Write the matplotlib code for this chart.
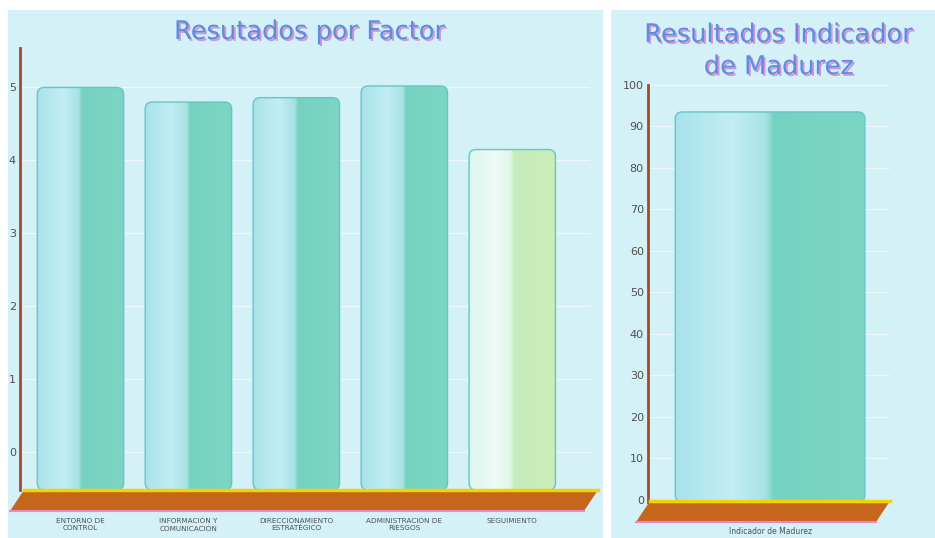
import numpy as np
import matplotlib
matplotlib.use("Agg")
import matplotlib.pyplot as plt
import matplotlib.patheffects as pe
from matplotlib.patches import FancyBboxPatch, Polygon, Rectangle
from matplotlib.colors import LinearSegmentedColormap

# data
factores = ["ENTORNO DE\nCONTROL", "INFORMACIÓN Y\nCOMUNICACIÓN", "DIRECCIONAMIENTO\nESTRATÉGICO",
            "ADMINISTRACIÓN DE\nRIESGOS", "SEGUIMIENTO"]
valores_factor = [4.99, 4.79, 4.85, 5.01, 4.14]
indicador = ["Indicador de Madurez"]
valor_indicador = [93.5]
ticks_factor = [0, 1, 2, 3, 4, 5]
ticks_indicador = [0, 10, 20, 30, 40, 50, 60, 70, 80, 90, 100]

W, H = 935, 538
fig = plt.figure(figsize=(W / 100, H / 100), dpi=100)
fig.patch.set_facecolor("white")

panel_bg = "#d3f1f6"
title_col = "#5b8de0"
axis_col = "#a8482a"
tick_col = "#505050"

teal = LinearSegmentedColormap.from_list("teal", [
    (0.0, "#a8e2ea"), (0.3, "#c2eef4"), (0.48, "#a6e2e4"), (0.52, "#76d2c0"), (1.0, "#7cd6c4")])
pale = LinearSegmentedColormap.from_list("pale", [
    (0.0, "#dcf5f0"), (0.3, "#eefbf6"), (0.48, "#e0f6e6"), (0.52, "#c6ecbc"), (1.0, "#cbeeb8")])


def px_axes(left, top, right, bottom):
    return fig.add_axes([left / W, 1 - bottom / H, (right - left) / W, (bottom - top) / H])


def panel(left, top, right, bottom):
    fig.patches.append(Rectangle((left / W, 1 - bottom / H), (right - left) / W, (bottom - top) / H,
                                 transform=fig.transFigure, facecolor=panel_bg, edgecolor="none", zorder=-5))


def title(x, y, txt):
    fig.text(x / W, 1 - y / H, txt, ha="center", va="center", fontsize=18.5, color=title_col,
             linespacing=1.3, zorder=10, family="DejaVu Sans",
             path_effects=[pe.withSimplePatchShadow(offset=(1.3, -1.3), shadow_rgbFace="#d68ad6", alpha=0.9)])


def floor(x0, x1, y_top_px, shift=14, depth=21):
    # 3D base under the bars, built in figure pixels
    top = 1 - y_top_px / H
    bot = 1 - (y_top_px + depth) / H
    pts = [(x0 / W, top), (x1 / W, top), ((x1 - shift) / W, bot), ((x0 - shift) / W, bot)]
    fig.patches.append(Polygon(pts, closed=True, transform=fig.transFigure, facecolor="#c6661c",
                               edgecolor="none", zorder=5))
    fig.lines.append(plt.Line2D([x0 / W, x1 / W], [top, top], transform=fig.transFigure,
                                color="#f2d400", lw=2.5, zorder=6))
    fig.lines.append(plt.Line2D([(x0 - shift) / W, (x1 - shift) / W], [bot, bot], transform=fig.transFigure,
                                color="#e48ac8", lw=1.5, zorder=6))


def draw_bars(ax, cats, vals, cmaps, ylim, ticks, xlim, xpad, xfs):
    ax.set_facecolor("none")
    ax.set_xlim(*xlim)
    ax.set_ylim(*ylim)
    x = np.arange(len(cats))
    bars = ax.bar(x, np.array(vals) - ylim[0], bottom=ylim[0], width=0.8, color="none", edgecolor="none")
    bb = ax.get_window_extent()
    px_x = bb.width / (xlim[1] - xlim[0])
    aspect = ((ylim[1] - ylim[0]) / bb.height) / ((xlim[1] - xlim[0]) / bb.width)
    grad = np.linspace(0, 1, 256).reshape(1, -1)
    for b, cm in zip(bars, cmaps):
        x0, y0, w, h = b.get_x(), b.get_y(), b.get_width(), b.get_height()
        shape = FancyBboxPatch((x0, y0), w, h, boxstyle="round,pad=0,rounding_size=%f" % (7 / px_x),
                               mutation_aspect=aspect, facecolor="none", edgecolor="#66c6c6", lw=1.0, zorder=3)
        ax.add_patch(shape)
        im = ax.imshow(grad, cmap=cm, extent=(x0, x0 + w, y0, y0 + h), aspect="auto", zorder=2)
        im.set_clip_path(shape)
    ax.set_xlim(*xlim)
    ax.set_ylim(*ylim)
    ax.set_xticks(x)
    ax.set_xticklabels(cats, fontsize=xfs, color=tick_col, linespacing=1.2, va="top")
    ax.set_yticks(ticks)
    ax.set_yticklabels([str(t) for t in ticks], fontsize=8, color=tick_col)
    ax.tick_params(axis="x", length=0, pad=xpad)
    ax.tick_params(axis="y", length=0, pad=3)
    for s in ["top", "right", "bottom"]:
        ax.spines[s].set_visible(False)
    ax.spines["left"].set_color(axis_col)
    ax.spines["left"].set_linewidth(2)
    ax.grid(axis="y", color="white", lw=0.8, alpha=0.6, zorder=1)
    ax.set_axisbelow(True)


# panels
panel(8, 10, 603, 538)
panel(611, 10, 935, 538)

# left chart: Resultados por Factor
ax1 = px_axes(20, 48, 590, 490)
draw_bars(ax1, factores, valores_factor, [teal, teal, teal, teal, pale],
          ylim=(-0.52, 5.53), ticks=ticks_factor, xlim=(-0.56, 4.72), xpad=20, xfs=5.2)
floor(24, 598, 490)
title(310, 32, "Resutados por Factor")

# right chart: Indicador de Madurez
ax2 = px_axes(648, 85, 890, 502)
draw_bars(ax2, indicador, valor_indicador, [teal],
          ylim=(-0.5, 100), ticks=ticks_indicador, xlim=(-0.515, 0.506), xpad=18, xfs=5.5)
floor(650, 890, 501)
title(779, 51, "Resultados Indicador\nde Madurez")

fig.savefig("out.png", dpi=100)
